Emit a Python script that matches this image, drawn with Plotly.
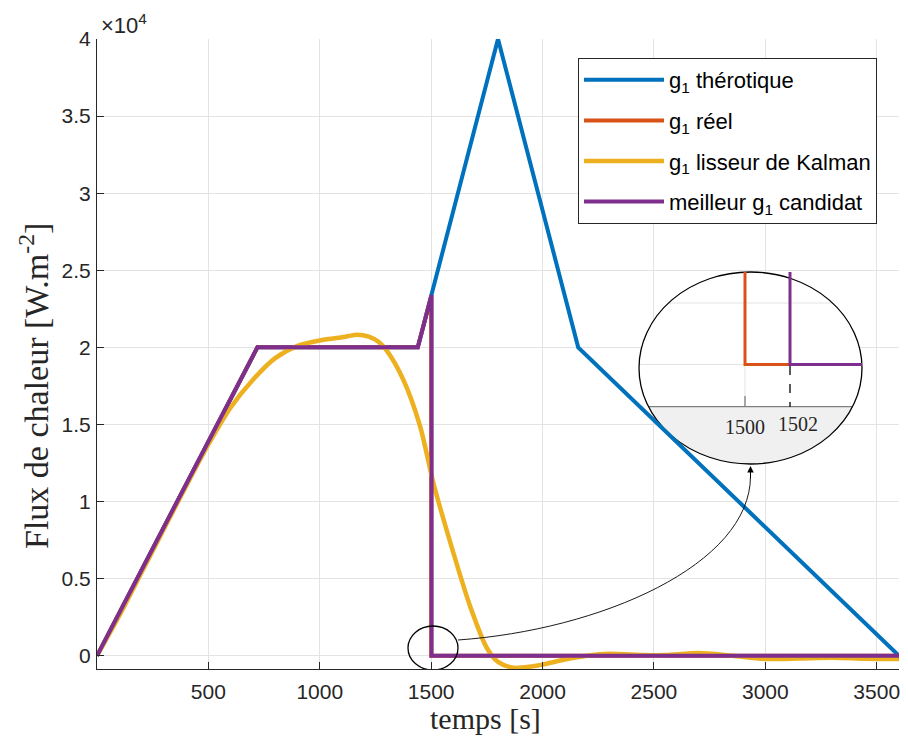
import numpy as np
import plotly.graph_objects as go

# ---------------- data ----------------
t_theo = [0, 720, 1440, 1800, 2160, 3600]
g_theo = [0, 20000, 20000, 40000, 20000, 0]

t_reel = [0, 720, 1440, 1500, 1500, 3600]
g_reel = [0, 20000, 20000, 23333, 0, 0]

t_cand = [0, 720, 1440, 1502, 1502, 3600]
g_cand = [0, 20000, 20000, 23389, 0, 0]

t_kal = [0, 100, 200, 300, 400, 500, 600, 700, 800, 900, 1000, 1100, 1165, 1220,
         1265, 1300, 1375, 1450, 1510, 1600, 1675, 1750, 1800, 1870, 1950, 2000,
         2100, 2200, 2300, 2450, 2550, 2700, 2850, 3000, 3150, 3300, 3450, 3600]
g_kal = [0, 2600, 5400, 8200, 11000, 13700, 16100, 17900, 19300, 20100, 20450,
         20650, 20820, 20700, 20350, 19800, 17900, 14900, 11200, 6660, 3200, 500,
         -400, -780, -700, -580, -250, 0, 120, 50, 40, 170, 0, -210, -180, -130,
         -200, -220]

y_tickvals = [0, 5000, 10000, 15000, 20000, 25000, 30000, 35000, 40000]
y_ticktext = ["0", "0.5", "1", "1.5", "2", "2.5", "3", "3.5", "4"]
x_tickvals = [500, 1000, 1500, 2000, 2500, 3000, 3500]
inset_labels = ["1500", "1502"]

names = ["g<sub>1</sub> thérotique", "g<sub>1</sub> réel",
         "g<sub>1</sub> lisseur de Kalman", "meilleur g<sub>1</sub> candidat"]
colors = ["#0072BD", "#D95319", "#EDB120", "#7E2F8E"]

# ---------------- geometry helpers (decorations only) ----------------
# page body has an 8px margin: the figure is drawn 8px right/down
OFF = 8
W, H = 908 - OFF, 749 - OFF
# plot area in reference-window pixels
L, R, T, B = 97, 899, 39, 669
XR = [0, 3600]
YR = [-862, 40000]


def px2x(px):
    return XR[0] + (px - L) / (R - L) * (XR[1] - XR[0])


def py2y(py):
    return YR[0] + (B - py) / (B - T) * (YR[1] - YR[0])


def pxp(px):
    return (px - L) / (R - L)


def pyp(py):
    return (B - py) / (B - T)


fig = go.Figure()

for tx, gy, nm, c, w in [(t_theo, g_theo, names[0], colors[0], 4),
                         (t_reel, g_reel, names[1], colors[1], 4),
                         (t_kal, g_kal, names[2], colors[2], 4.5),
                         (t_cand, g_cand, names[3], colors[3], 4)]:
    fig.add_trace(go.Scatter(
        x=tx, y=gy, mode="lines", name=nm,
        line=dict(color=c, width=w, shape="spline" if nm == names[2] else "linear",
                  smoothing=0.8 if nm == names[2] else 0),
        legendgroup=nm,
    ))

# inset traces (zoom near t = 1500 s)
for tx, gy, c in [(t_reel, g_reel, colors[1]), (t_cand, g_cand, colors[3])]:
    fig.add_trace(go.Scatter(x=tx, y=gy, mode="lines", showlegend=False,
                             line=dict(color=c, width=3), xaxis="x2", yaxis="y2",
                             hoverinfo="skip"))

# ---------------- inset decorations ----------------
ecx, ecy, erx, ery = 750.5, 368, 111.5, 96
chord_y = 406.7
shapes = []
shapes.append(dict(type="circle", xref="x", yref="y", layer="between",
                   x0=px2x(ecx - erx), x1=px2x(ecx + erx),
                   y0=py2y(ecy + ery), y1=py2y(ecy - ery),
                   fillcolor="white", line=dict(width=0)))
dy = chord_y - ecy
dx = erx * np.sqrt(1 - (dy / ery) ** 2)
angs = np.linspace(np.arcsin(dy / ery), np.pi - np.arcsin(dy / ery), 80)
ptsx = ecx + erx * np.cos(angs)
ptsy = ecy + ery * np.sin(angs)
path = "M " + " L ".join(f"{px2x(a):.3f},{py2y(b):.3f}" for a, b in zip(ptsx, ptsy)) + " Z"
shapes.append(dict(type="path", xref="x", yref="y", layer="between", path=path,
                   fillcolor="#f0f0f0", line=dict(width=0)))


def clipped_h(py):
    d = erx * np.sqrt(max(0.0, 1 - ((py - ecy) / ery) ** 2))
    return ecx - d, ecx + d


for gy in [303, 364.5]:
    xa, xb = clipped_h(gy)
    shapes.append(dict(type="line", xref="x", yref="y", layer="between",
                       x0=px2x(xa), x1=px2x(xb), y0=py2y(gy), y1=py2y(gy),
                       line=dict(color="#e3e3e3", width=1)))
shapes.append(dict(type="line", xref="x", yref="y", layer="between",
                   x0=px2x(745), x1=px2x(745), y0=py2y(364.5), y1=py2y(chord_y),
                   line=dict(color="#e3e3e3", width=1)))
shapes.append(dict(type="line", xref="x", yref="y", layer="between",
                   x0=px2x(ecx - dx), x1=px2x(ecx + dx), y0=py2y(chord_y), y1=py2y(chord_y),
                   line=dict(color="#7f7f7f", width=1.3)))
shapes.append(dict(type="line", xref="x", yref="y", layer="between",
                   x0=px2x(745), x1=px2x(745), y0=py2y(396), y1=py2y(chord_y),
                   line=dict(color="#7f7f7f", width=1.3)))
shapes.append(dict(type="circle", xref="x", yref="y", layer="between",
                   x0=px2x(ecx - erx), x1=px2x(ecx + erx),
                   y0=py2y(ecy + ery), y1=py2y(ecy - ery),
                   fillcolor="rgba(0,0,0,0)", line=dict(color="black", width=1.3)))
shapes.append(dict(type="line", xref="x", yref="y", layer="above",
                   x0=px2x(790), x1=px2x(790), y0=py2y(366), y1=py2y(chord_y),
                   line=dict(color="black", width=1.3, dash="dash")))
shapes.append(dict(type="circle", xref="x", yref="y", layer="above",
                   x0=px2x(408), x1=px2x(458), y0=py2y(670), y1=py2y(626),
                   line=dict(color="black", width=1.3)))
cpath = (f"M {px2x(458)},{py2y(640)} C {px2x(600)},{py2y(630)} "
         f"{px2x(750.5)},{py2y(565)} {px2x(750.5)},{py2y(476)}")
shapes.append(dict(type="path", xref="x", yref="y", layer="above", path=cpath,
                   line=dict(color="black", width=0.9)))

annotations = [
    dict(x=px2x(750.5), y=py2y(466), xref="x", yref="y", ax=0, ay=14, text="",
         showarrow=True, arrowhead=2, arrowsize=1.3, arrowwidth=1, arrowcolor="black",
         standoff=0),
    dict(x=1500, y=pyp(427), xref="x2", yref="paper", text=inset_labels[0],
         xanchor="center", yanchor="middle",
         showarrow=False, font=dict(family="Liberation Serif", size=20, color="#262626")),
    dict(x=1502, y=pyp(424), xref="x2", yref="paper", text=inset_labels[1], xshift=8,
         xanchor="center", yanchor="middle",
         showarrow=False, font=dict(family="Liberation Serif", size=20, color="#262626")),
    dict(x=pxp(99), y=1, xref="paper", yref="paper", xanchor="left", yanchor="bottom",
         text="×10<sup>4</sup>", showarrow=False, yshift=-1,
         font=dict(family="Liberation Sans", size=22, color="#262626")),
    dict(x=pxp(485), y=pyp(718), xref="paper", yref="paper", text="temps [s]",
         xanchor="center", yanchor="middle",
         showarrow=False, font=dict(family="Liberation Serif", size=30, color="#262626")),
    dict(x=pxp(34), y=pyp(386), xref="paper", yref="paper",
         text="Flux de chaleur [W.m<sup>-2</sup>]", textangle=-90,
         xanchor="center", yanchor="middle",
         showarrow=False, font=dict(family="Liberation Serif", size=34, color="#262626")),
]

axis_common = dict(showline=True, linecolor="#262626", linewidth=1.2, ticks="inside",
                   ticklen=7, tickcolor="#262626", tickwidth=1, gridcolor="#e3e3e3",
                   gridwidth=1, zeroline=False, mirror=False, automargin=False,
                   tickfont=dict(family="Liberation Sans", size=21, color="#262626"))

fig.update_layout(
    width=W, height=H,
    margin=dict(l=L - OFF, r=908 - R, t=T - OFF, b=749 - B, autoexpand=False),
    paper_bgcolor="white", plot_bgcolor="rgba(0,0,0,0)",
    showlegend=True,
    xaxis=dict(range=XR, tickvals=x_tickvals, ticklabelstandoff=4, **axis_common),
    yaxis=dict(range=YR, tickvals=y_tickvals, ticktext=y_ticktext,
               ticklabelstandoff=1, **axis_common),
    xaxis2=dict(domain=[pxp(639), pxp(862)], range=[1495.289, 1505.2], anchor="y2",
                showgrid=False, showline=False, showticklabels=False, ticks="",
                zeroline=False, fixedrange=True, automargin=False),
    yaxis2=dict(domain=[pyp(chord_y), pyp(272)], range=[-627, 1374], anchor="x2",
                showgrid=False, showline=False, showticklabels=False, ticks="",
                zeroline=False, fixedrange=True, automargin=False),
    legend=dict(x=pxp(578), y=pyp(58), xanchor="left", yanchor="top",
                bordercolor="#262626", borderwidth=1, bgcolor="white",
                font=dict(family="Liberation Sans", size=22, color="#000000"),
                itemwidth=80, tracegroupgap=9),
    shapes=shapes,
    annotations=annotations,
)

fig.write_html("out.html")
